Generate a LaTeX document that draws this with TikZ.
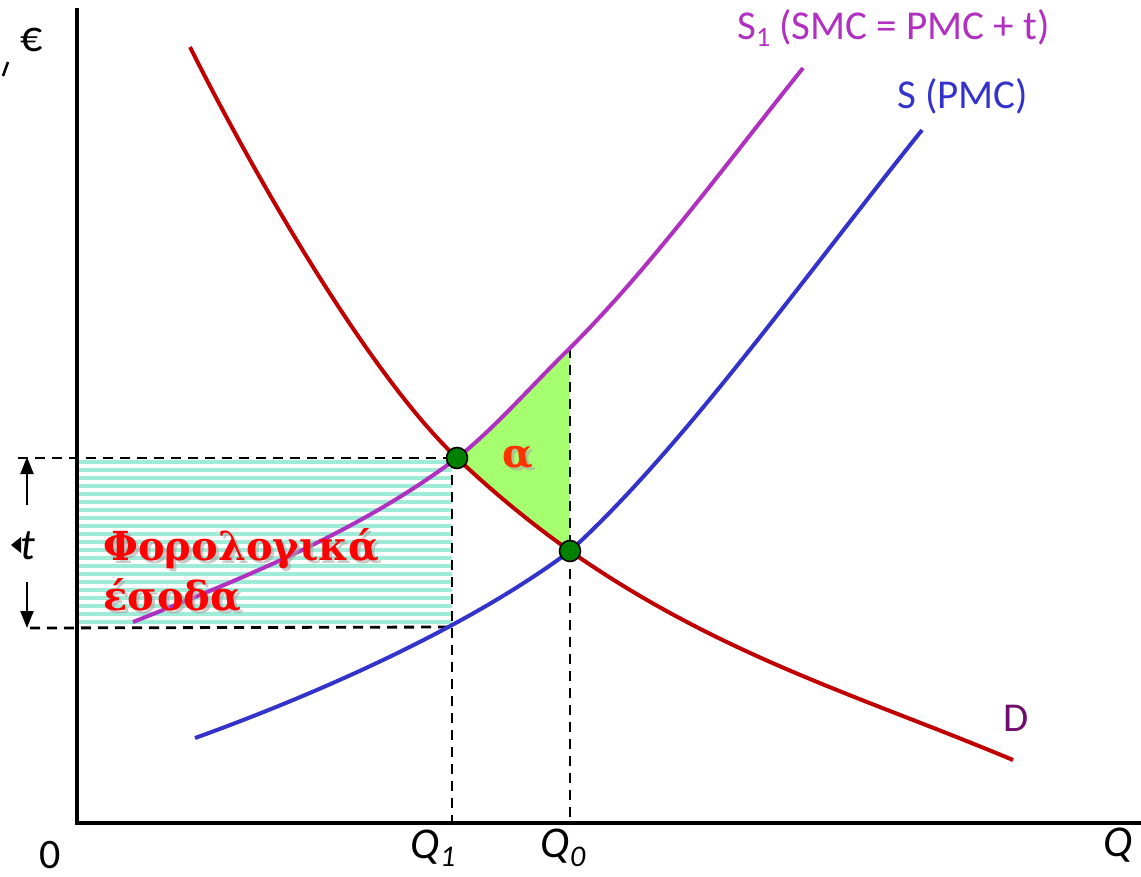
\documentclass[tikz,border=0pt]{standalone}
\usepackage{fontspec}
\setmainfont{Carlito}
\newfontfamily\grfont{DejaVu Serif}
\usetikzlibrary{arrows.meta}
\definecolor{dred}{RGB}{192,0,0}
\definecolor{sblue}{RGB}{51,51,204}
\definecolor{smag}{RGB}{176,48,192}
\definecolor{dpurp}{RGB}{110,15,110}
\definecolor{aqua}{RGB}{158,235,215}
\definecolor{lgreen}{RGB}{166,255,110}
\definecolor{dotgreen}{RGB}{0,128,0}
\definecolor{alphared}{RGB}{255,51,0}
\begin{document}
\begin{tikzpicture}[x=1pt,y=-1pt,
  axis/.style={line width=4.2pt,black},
  curve/.style={line width=4pt},
  guide/.style={line width=2.8pt,dash pattern=on 10pt off 7pt},
  eqdot/.style={circle,draw=black,line width=1.6pt,fill=dotgreen,minimum size=21pt,inner sep=0pt},
  lbl/.style={inner sep=0pt,font=\fontsize{41}{48}\selectfont},
  qlbl/.style={inner sep=0pt,font=\fontsize{44}{48}\selectfont\itshape},
  grk/.style={inner sep=0pt,align=left,font=\fontsize{40}{50}\selectfont\grfont\bfseries},
  tarrow/.style={line width=2.2pt,-{Triangle[length=17pt,width=13pt]}}
]
\useasboundingbox (0,0) rectangle (1141,876);
% key coordinates
\coordinate (o) at (77,823);
\coordinate (ytop) at (77,8);
\coordinate (xend) at (1141,823);
\coordinate (e1) at (457,458);
\coordinate (e0) at (570,551);
\coordinate (s1q0) at (570,348);
\coordinate (q1) at (452,823);
\coordinate (q0) at (570,823);
\coordinate (q1top) at (452,458);
\coordinate (q1low) at (452,627);
\coordinate (hl1) at (18,458);
\coordinate (hl2) at (30,628);
% striped tax revenue area
\foreach \yy in {462,470,...,622} {
  \draw[aqua,line width=4.5pt] (77,\yy) -- (452,\yy);
}
% deadweight area alpha
\fill[lgreen] (e1) .. controls (495,428) and (532,385) .. (s1q0) -- (e0)
  .. controls (532,524) and (495,494) .. (e1) -- cycle;
% guides
\draw[guide] (hl1) -- (e1);
\draw[guide] (hl2) -- (q1low);
\draw[guide] (q1top) -- (q1);
\draw[guide] (s1q0) -- (q0);
% axes
\draw[axis] (ytop) -- (o) -- (xend);
% demand
\draw[curve,dred] (190,47) .. controls (250,167) and (367,373) .. (e1)
  .. controls (495,494) and (532,524) .. (e0)
  .. controls (720,656) and (863,697) .. (1013,760);
% supply S (PMC)
\draw[curve,sblue] (195,738) .. controls (320,693) and (470,626) .. (e0)
  .. controls (680,451) and (802,280) .. (922,130);
% S1
\draw[curve,smag] (133,622) .. controls (243,578) and (357,533) .. (e1)
  .. controls (495,428) and (532,385) .. (s1q0)
  .. controls (650,268) and (723,168) .. (803,68);
% equilibrium dots
\node[eqdot] (d1) at (e1) {};
\node[eqdot] (d0) at (e0) {};
% t arrows
\coordinate (tup0) at (27,505);
\coordinate (tup1) at (27,457);
\coordinate (tdn0) at (27,582);
\coordinate (tdn1) at (27,628);
\draw[tarrow] (tup0) -- (tup1);
\draw[tarrow] (tdn0) -- (tdn1);
\fill (21,537) -- (11,545) -- (21,553) -- cycle;
\node[qlbl] (tl) at (28,546) {t};
% stray mark top-left
\draw[line width=2.5pt] (8,62) -- (3,76);
% labels
\node[lbl,font=\fontsize{44}{48}\selectfont] (euro) at (32,40) {€};
\node[lbl,font=\fontsize{42}{44}\selectfont] (zero) at (50,855) {0};
\node[qlbl] (lq1) at (433,848) {Q\raisebox{-0.4ex}{\fontsize{30}{30}\selectfont 1}};
\node[qlbl] (lq0) at (563,848) {Q\raisebox{-0.4ex}{\fontsize{30}{30}\selectfont 0}};
\node[qlbl] (lq) at (1118,845) {Q};
\node[lbl,smag,anchor=west] (ls1) at (737,28) {S\raisebox{-0.4ex}{\fontsize{28}{28}\selectfont 1} (SMC = PMC + t)};
\node[lbl,sblue,anchor=west] (ls) at (897,96) {S (PMC)};
\node[lbl,dpurp] (ld) at (1016,718) {D};
% alpha
\node[grk,gray!70,opacity=0.6] (alsh) at (521,461) {α};
\node[grk,alphared] (al) at (518,458) {α};
% tax revenue text
\node[grk,gray!70,opacity=0.6,anchor=north west] (txsh) at (106,531) {Φορολογικά\\έσοδα};
\node[grk,red,anchor=north west] (tx) at (103,528) {Φορολογικά\\έσοδα};
\end{tikzpicture}
\end{document}
